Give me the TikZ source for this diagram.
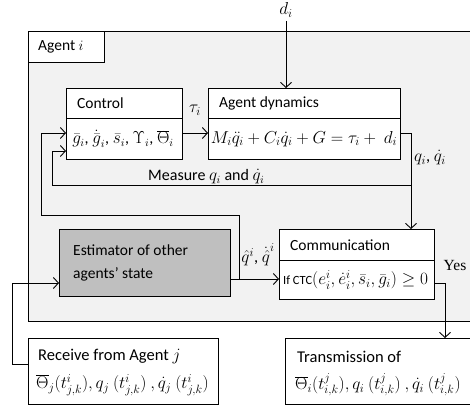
\documentclass[tikz,border=0pt]{standalone}
\usepackage{fontspec}
\setmainfont{Carlito}
\newfontfamily\seriffont{Liberation Serif}
\usetikzlibrary{arrows.meta}
\definecolor{agentbg}{HTML}{F2F2F2}
\definecolor{estbg}{HTML}{BFBFBF}
\tikzset{
  box/.style={draw, line width=0.9pt, fill=white, anchor=north west, inner sep=0pt},
  lbl/.style={anchor=west, inner sep=0pt},
  conn/.style={line width=0.9pt, ->},
  divline/.style={line width=0.9pt},
  bigmath/.style={font=\fontsize{17.5}{20}\selectfont},
  midmath/.style={font=\fontsize{16.8}{19}\selectfont},
}
\begin{document}
\begin{tikzpicture}[x=1pt,y=-1pt, font=\fontsize{15.5}{18}\selectfont,
  >={Straight Barb[length=5pt,width=11pt]}]
\useasboundingbox (0,0) rectangle (470,411);
% Agent i area
\node[box, fill=agentbg, minimum width=460, minimum height=290] (agent) at (28,31) {};
\node[box, minimum width=76, minimum height=31] (agentlbl) at (28,31) {};
\node[lbl] (agenttxt) at (38,47) {Agent $i$};
% Control
\node[box, minimum width=116, minimum height=71] (ctrl) at (66,88) {};
\draw[divline] (66,118) -- (182,118);
\node[lbl] (ctrltitle) at (77,103) {Control};
\node[font=\fontsize{16}{18}\selectfont] (ctrlf) at (123,139) {$\bar g_i$, $\dot{\bar g}_i$, $\bar s_i$, $\Upsilon_i$, $\overline{\Theta}_i$};
% Agent dynamics
\node[box, minimum width=192, minimum height=71] (dyn) at (208,88) {};
\draw[divline] (208,118) -- (400,118);
\node[lbl] (dyntitle) at (219,103) {Agent dynamics};
\node[midmath] (dynf) at (304,139) {$M_i\ddot q_i + C_i\dot q_i + G = \tau_i + \ d_i$};
% Estimator
\node[box, fill=estbg, minimum width=171, minimum height=67] (est) at (59,229) {};
\node[lbl] (esttxt1) at (73,250) {Estimator of other};
\node[lbl] (esttxt2) at (73,274) {agents' state};
% Communication
\node[box, minimum width=155, minimum height=70] (comm) at (279,229) {};
\draw[divline] (279,260) -- (434,260);
\node[lbl] (commtitle) at (290,245) {Communication};
\node[lbl, bigmath] (commf) at (283,280) {{\fontsize{12.5}{14}\selectfont If CTC}$\big(e^i_i, \dot e^i_i, \bar s_i, \bar g_i\big) \geq 0$};
% Receive
\node[box, minimum width=190, minimum height=66] (recv) at (28,338) {};
\node[lbl, font=\fontsize{16.5}{18}\selectfont] (recvt) at (38,357) {Receive from Agent $j$};
\node[lbl, midmath] (recvf) at (36,385) {$\overline{\Theta}_j(t^i_{j,k}), q_j\ (t^i_{j,k})\ , \dot q_j\ (t^i_{j,k})$};
% Transmission
\node[box, minimum width=200, minimum height=66] (trans) at (285,338) {};
\node[lbl, font=\fontsize{16.5}{18}\selectfont] (transt) at (297,357) {Transmission of};
\node[lbl, midmath] (transf) at (295,385) {$\overline{\Theta}_i(t^j_{i,k}), q_i\ (t^j_{i,k})\ , \dot q_i\ (t^j_{i,k})$};
% labels
\node[bigmath] (d) at (286,10) {$d_i$};
\node[bigmath] (tau) at (195,110) {$\tau_i$};
\node[font=\fontsize{16.5}{18}\selectfont] (qout) at (430,158) {$q_i$, $\dot q_i$};
\node[lbl, font=\fontsize{16}{18}\selectfont] (meas) at (148,177) {Measure $q_i$ and $\dot q_i$};
\node[font=\fontsize{16.5}{18}\selectfont] (qhat) at (258,255) {$\hat q^i$, $\dot{\hat q}^i$};
\node (yes) at (455,266) {\seriffont Yes};
% corner coordinates
\coordinate (outR) at (411,133);
\coordinate (measR) at (411,185);
\coordinate (measL) at (52,185);
\coordinate (estUp) at (239,215);
\coordinate (estL) at (41,215);
\coordinate (estJ) at (239,279);
\coordinate (commR) at (445,283);
\coordinate (recvL) at (12,364);
% connectors
\draw[conn] (d.south) -- (d.south |- dyn.north);
\draw[conn] (ctrl.east |- outR) -- (dyn.west |- outR);
\draw[conn] (dyn.east |- outR) -- (outR) -- (outR |- comm.north);
\draw[conn] (measR) -- (measL) -- (measL |- 0,151) -- (ctrl.west |- 0,151);
\draw[conn] (estJ) -- (estUp) -- (estL) -- (estL |- outR) -- (ctrl.west |- outR);
\draw[conn] (est.east |- estJ) -- (comm.west |- estJ);
\draw[conn] (comm.east |- commR) -- (commR) -- (commR |- trans.north);
\draw[conn] (recv.west |- recvL) -- (recvL) -- (recvL |- 0,283) -- (est.west |- 0,283);
\end{tikzpicture}
\end{document}
